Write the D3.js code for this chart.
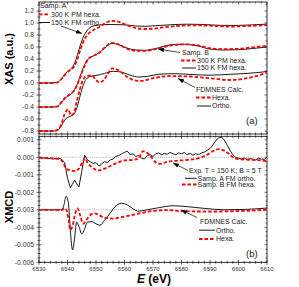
<!DOCTYPE html>
<html>
<head>
<meta charset="utf-8">
<script src="https://cdn.jsdelivr.net/npm/d3@7"></script>
<style>
  body { margin: 0; background: #fff; }
  text { font-family: "Liberation Sans", Arial, sans-serif; }
</style>
</head>
<body>
<script>
const width = 299, height = 287;

// ---- data: [energy eV, value] ----
// (a) XAS, offsets as in the figure
const xasA_ortho = [[6530,0],[6533,0],[6535,0.003],[6536.5,0.01],[6537.5,0.05],[6538.5,0.11],[6539.5,0.17],[6540.5,0.21],[6541.5,0.25],[6542.5,0.33],[6543.5,0.47],[6544.5,0.63],[6545.5,0.76],[6546.5,0.85],[6547.5,0.91],[6549,0.95],[6551,0.965],[6555,0.975],[6560,0.97],[6564,0.95],[6567,0.945],[6571,0.955],[6576,0.97],[6582,0.98],[6588,0.975],[6594,0.96],[6600,0.96],[6605,0.97],[6610,0.98]];
const xasA_hexa = [[6530,0],[6535,0],[6536.5,0.01],[6537.5,0.05],[6538.5,0.1],[6539.5,0.16],[6540.5,0.2],[6541.5,0.23],[6542.5,0.29],[6543.5,0.4],[6544.5,0.55],[6545.5,0.68],[6546.5,0.77],[6547.5,0.83],[6549,0.88],[6551,0.93],[6553,0.99],[6555.5,1.035],[6558,1.02],[6561,0.96],[6564,0.915],[6567,0.9],[6570,0.905],[6575,0.935],[6580,0.955],[6586,0.96],[6592,0.95],[6597,0.94],[6603,0.95],[6610,0.965]];
const xasB_fm = [[6530,-0.4],[6535,-0.4],[6536.5,-0.39],[6537.5,-0.35],[6538.5,-0.29],[6539.5,-0.24],[6540.5,-0.21],[6541.5,-0.17],[6542.5,-0.11],[6543.5,-0.01],[6544.5,0.12],[6545.5,0.25],[6546.5,0.35],[6547.5,0.41],[6549,0.45],[6551,0.5],[6553,0.58],[6555.5,0.66],[6558,0.64],[6561,0.58],[6564,0.55],[6567,0.545],[6571,0.575],[6576,0.635],[6581,0.645],[6586,0.615],[6590,0.565],[6595,0.55],[6600,0.555],[6605,0.575],[6610,0.6]];
const xasB_pm = [[6530,-0.4],[6535,-0.4],[6536.5,-0.39],[6537.5,-0.34],[6538.5,-0.28],[6539.5,-0.23],[6540.5,-0.2],[6541.5,-0.165],[6542.5,-0.115],[6543.5,-0.02],[6544.5,0.1],[6545.5,0.23],[6546.5,0.34],[6547.5,0.41],[6549,0.45],[6551,0.5],[6553,0.59],[6555.5,0.67],[6558,0.64],[6561,0.57],[6564,0.535],[6567,0.535],[6571,0.565],[6576,0.625],[6581,0.645],[6586,0.625],[6590,0.58],[6595,0.565],[6600,0.57],[6605,0.595],[6610,0.62]];
const xasCalc_ortho = [[6530,-0.8],[6535.5,-0.8],[6536.5,-0.79],[6537.5,-0.74],[6538.5,-0.66],[6539.5,-0.59],[6540.5,-0.565],[6541.5,-0.545],[6542.5,-0.5],[6543.5,-0.38],[6544.5,-0.2],[6545.5,-0.04],[6546.5,0.06],[6548,0.11],[6550,0.125],[6553,0.16],[6556,0.195],[6559,0.18],[6562,0.13],[6565,0.1],[6568,0.11],[6572,0.145],[6578,0.155],[6584,0.14],[6590,0.13],[6597,0.145],[6603,0.16],[6610,0.19]];
const xasCalc_hexa = [[6530,-0.8],[6535,-0.8],[6536,-0.79],[6537,-0.77],[6538,-0.66],[6539,-0.52],[6540.2,-0.44],[6541.3,-0.54],[6542.3,-0.5],[6543.3,-0.3],[6544.5,-0.08],[6545.5,0.06],[6547,0.12],[6548.5,0.125],[6550,0.05],[6551,0.01],[6552.5,0.04],[6554,0.14],[6555.7,0.245],[6558,0.21],[6561,0.1],[6564,0.04],[6566,0.035],[6570,0.08],[6576,0.115],[6582,0.11],[6590,0.08],[6597,0.05],[6603,0.08],[6610,0.17]];

// (b) XMCD in units of 1e-3
const xmcdExp_ortho = [[6530,-0.02],[6531,-0.05],[6532,-0.03],[6533,-0.08],[6534,-0.06],[6535,-0.1],[6536,-0.07],[6537,-0.05],[6538,-0.12],[6539,-0.3],[6540,-1.2],[6541,-1.74],[6542,-1.45],[6542.5,-1.3],[6543,-1.45],[6544,-1.7],[6545,-0.8],[6546,0.12],[6547,-0.15],[6548,-0.25],[6549,-0.35],[6550,-0.3],[6551,-0.5],[6552,-0.38],[6553,-0.25],[6554,-0.3],[6555,-0.15],[6556,-0.1],[6557,0.05],[6558,0.1],[6559,0.2],[6560,0.28],[6561,0.35],[6562,0.15],[6563,0.2],[6564,0.05],[6565,0.1],[6566,-0.05],[6567,-0.1],[6568,0.1],[6569,0.15],[6570,0.05],[6571,0.2],[6572,0.25],[6573,0.15],[6574,0.22],[6575,0.18],[6576,0.28],[6577,0.2],[6578,0.15],[6579,0.25],[6580,0.2],[6581,0.28],[6582,0.15],[6583,0.22],[6584,0.12],[6585,0.2],[6586,0.15],[6587,0.25],[6588,0.3],[6589,0.4],[6590,0.5],[6591,0.7],[6592,0.95],[6593,1.1],[6594,1.15],[6595,1.0],[6596,0.7],[6597,0.4],[6598,0.15],[6599,0.0],[6600,-0.05],[6601,-0.1],[6602,-0.05],[6603,-0.12],[6604,-0.08],[6605,-0.1],[6606,-0.15],[6607,-0.05],[6608,-0.1],[6609,-0.12],[6610,0.0]];
const xmcdExp_hexa = [[6530,-0.02],[6534,-0.05],[6537,-0.1],[6538.5,-0.3],[6539.5,-0.65],[6541,-0.75],[6542.5,-0.78],[6544,-0.65],[6545.5,-0.2],[6546.2,-0.05],[6547,-0.3],[6548.5,-0.55],[6550,-0.72],[6551,-0.75],[6553,-0.65],[6555,-0.5],[6557,-0.35],[6560,-0.18],[6563,-0.15],[6565,-0.05],[6566.5,0.35],[6567.5,0.3],[6569,0.1],[6571,-0.3],[6572.5,-0.38],[6575,-0.25],[6578,-0.2],[6582,-0.15],[6586,-0.05],[6589,0.15],[6591,0.35],[6593,0.47],[6595,0.38],[6597,0.15],[6598.5,-0.05],[6601,-0.12],[6605,-0.15],[6610,-0.2]];
const xmcdCalc_ortho = [[6530,-3],[6538,-3],[6538.8,-2.7],[6539.5,-2.23],[6540.3,-2.6],[6541,-4.2],[6541.8,-5.3],[6542.5,-4.6],[6543.2,-3.7],[6544,-3.95],[6545,-4.38],[6546,-4.1],[6547,-3.7],[6548.5,-3.68],[6550,-3.8],[6551.4,-3.88],[6553,-3.6],[6554.5,-3.3],[6556.5,-2.85],[6559,-2.63],[6561,-2.72],[6563,-2.95],[6565,-3.08],[6568,-3.0],[6572,-2.88],[6577,-2.77],[6582,-2.82],[6588,-2.92],[6595,-3.0],[6602,-2.98],[6610,-2.9]];
const xmcdCalc_hexa = [[6530,-3],[6538,-3],[6539.3,-2.92],[6540.2,-3.4],[6541,-4.15],[6541.8,-3.9],[6542.8,-3.15],[6543.5,-2.92],[6544.5,-3.35],[6545.5,-3.8],[6546.5,-3.6],[6548,-3.3],[6549.5,-3.2],[6551,-3.3],[6553,-3.45],[6556,-3.5],[6559,-3.42],[6562,-3.32],[6566,-3.18],[6570,-3.06],[6575,-3.02],[6580,-3.08],[6590,-3.1],[6600,-3.07],[6610,-3.0]];

const xTicks = d3.range(6530, 6611, 10);
const yTopTicks = d3.range(-8, 13, 2).map(d => d / 10);
const yBotTicks = d3.range(-6, 2, 1);

// ---- scales ----
const x = d3.scaleLinear().domain([6530, 6610]).range([39, 267]);
const yTop = d3.scaleLinear().domain([-0.85, 1.35]).range([134, 2]);
const yBot = d3.scaleLinear().domain([-6, 1.2]).range([262.3, 136.3]);

const svg = d3.select('body').append('svg')
  .attr('width', width)
  .attr('height', height);

svg.append('defs').append('marker')
  .attr('id', 'arr')
  .attr('viewBox', '0 0 8 6')
  .attr('refX', 8).attr('refY', 3)
  .attr('markerWidth', 6).attr('markerHeight', 4.5)
  .attr('markerUnits', 'userSpaceOnUse')
  .attr('orient', 'auto')
  .append('path').attr('d', 'M0,0L8,3L0,6Z').attr('fill', '#000');

function panel(y, yTicks, yMinor, fmt) {
  const g = svg.append('g');
  const [y0, y1] = y.range();
  const xMinor = d3.range(6530, 6611, 2);
  // frame
  g.append('rect')
    .attr('x', 39).attr('y', y1)
    .attr('width', 228).attr('height', y0 - y1)
    .attr('fill', 'none').attr('stroke', '#000').attr('stroke-width', 0.8);
  const tick = (x1, y1_, x2, y2_) => g.append('line')
    .attr('x1', x1).attr('y1', y1_).attr('x2', x2).attr('y2', y2_)
    .attr('stroke', '#000').attr('stroke-width', 0.6);
  xMinor.forEach(v => {
    const len = v % 10 === 0 ? 2.5 : 1.5;
    tick(x(v), y0 - len, x(v), y0 + len);
    tick(x(v), y1, x(v), y1 + len);
  });
  yMinor.forEach(v => {
    const len = yTicks.some(t => Math.abs(t - v) < 1e-9) ? 2.5 : 1.5;
    tick(39 - len, y(v), 39 + len, y(v));
    tick(267 - len, y(v), 267, y(v));
  });
  g.selectAll('text.yl').data(yTicks).join('text')
    .attr('x', 34).attr('y', d => y(d) + 2.3)
    .attr('text-anchor', 'end')
    .attr('font-size', '6.8px')
    .attr('fill', '#333')
    .text(fmt);
  return g;
}

panel(yTop, yTopTicks, d3.range(-8, 14, 1).map(d => d / 10), d => d.toFixed(1));
const gb = panel(yBot, yBotTicks, d3.range(-6, 1.01, 0.25), d => (d / 1000).toFixed(3));

gb.selectAll('text.xl').data(xTicks).join('text')
  .attr('x', d => x(d)).attr('y', 271)
  .attr('text-anchor', 'middle')
  .attr('font-size', '6px')
  .attr('fill', '#333')
  .text(d => d);

// dotted reference lines
[0, -3].forEach(v => {
  svg.append('line')
    .attr('x1', 39).attr('x2', 267)
    .attr('y1', yBot(v)).attr('y2', yBot(v))
    .attr('stroke', '#888').attr('stroke-width', 0.7)
    .attr('stroke-dasharray', '1,1.2');
});

const lineTop = d3.line().x(d => x(d[0])).y(d => yTop(d[1])).curve(d3.curveMonotoneX);
const lineBot = d3.line().x(d => x(d[0])).y(d => yBot(d[1])).curve(d3.curveMonotoneX);
const lineBotRaw = d3.line().x(d => x(d[0])).y(d => yBot(d[1]));

function solid(data, gen) {
  svg.append('path').datum(data)
    .attr('d', gen).attr('fill', 'none')
    .attr('stroke', '#000').attr('stroke-width', 0.9);
}
function dashed(data, gen) {
  svg.append('path').datum(data)
    .attr('d', gen).attr('fill', 'none')
    .attr('stroke', '#ff0000').attr('stroke-width', 1.8)
    .attr('stroke-dasharray', '3.5,2');
}

solid(xasA_ortho, lineTop); dashed(xasA_hexa, lineTop);
solid(xasB_fm, lineTop); dashed(xasB_pm, lineTop);
solid(xasCalc_ortho, lineTop); dashed(xasCalc_hexa, lineTop);

solid(xmcdExp_ortho, lineBotRaw); dashed(xmcdExp_hexa, lineBot);
solid(xmcdCalc_ortho, lineBot); dashed(xmcdCalc_hexa, lineBot);

// ---- annotations ----
function label(tx, ty, s, size) {
  svg.append('text').attr('x', tx).attr('y', ty)
    .attr('font-size', size || '7px').attr('fill', '#222').text(s);
}
function key(x1, x2, ky, red) {
  svg.append('line').attr('x1', x1).attr('x2', x2).attr('y1', ky).attr('y2', ky)
    .attr('stroke', red ? '#ff0000' : '#000')
    .attr('stroke-width', red ? 1.8 : 0.9)
    .attr('stroke-dasharray', red ? '3.5,2' : null);
}
function arrow(x1, y1, x2, y2) {
  svg.append('line').attr('x1', x1).attr('y1', y1).attr('x2', x2).attr('y2', y2)
    .attr('stroke', '#000').attr('stroke-width', 0.7)
    .attr('marker-end', 'url(#arr)');
}

label(40, 8, 'Samp. A');
key(39, 50, 14.3, true); label(51, 16.6, '300 K PM hexa.');
key(39, 50, 22.5, false); label(51, 24.8, '150 K FM ortho.');
arrow(61, 26, 82, 33.5);

label(182, 55, 'Samp. B');
arrow(180, 52.5, 158, 49);
key(181, 196, 60.5, true); label(197, 62.8, '300 K PM hexa.');
key(182, 196, 68, false); label(197, 70.3, '150 K FM hexa.');

label(196, 91.5, 'FDMNES Calc.');
arrow(195, 87.5, 178, 78.5);
key(196, 211, 97.5, true); label(212, 99.8, 'Hexa.');
key(197, 211, 106, false); label(212, 108.3, 'Ortho.');
label(246, 123.5, '(a)', '9.5px');

label(189, 173.3, 'Exp. T = 150 K; B = 5 T');
arrow(188, 170.5, 173, 163);
key(185, 196.5, 178.3, false); label(197.5, 180.6, 'Samp. A FM ortho.');
key(182, 196.5, 184.5, true); label(197.5, 186.8, 'Samp. B FM hexa.');

label(200, 224, 'FDMNES Calc.');
arrow(197, 217.5, 181, 210);
key(199, 215, 230.2, false); label(216, 232.5, 'Ortho.');
key(199, 215, 239, true); label(216, 241.3, 'Hexa.');
label(246, 256.5, '(b)', '9.5px');

// ---- axis titles ----
svg.append('text')
  .attr('transform', 'translate(12.5,59) rotate(-90)')
  .attr('text-anchor', 'middle')
  .attr('font-size', '11px').attr('font-weight', 'bold')
  .text('XAS (a.u.)');
svg.append('text')
  .attr('transform', 'translate(12.5,207) rotate(-90)')
  .attr('text-anchor', 'middle')
  .attr('font-size', '11px').attr('font-weight', 'bold')
  .text('XMCD');
const xt = svg.append('text')
  .attr('x', 154).attr('y', 283)
  .attr('text-anchor', 'middle')
  .attr('font-size', '12px').attr('font-weight', 'bold');
xt.append('tspan').attr('font-style', 'italic').text('E');
xt.append('tspan').text(' (eV)');
</script>
</body>
</html>
